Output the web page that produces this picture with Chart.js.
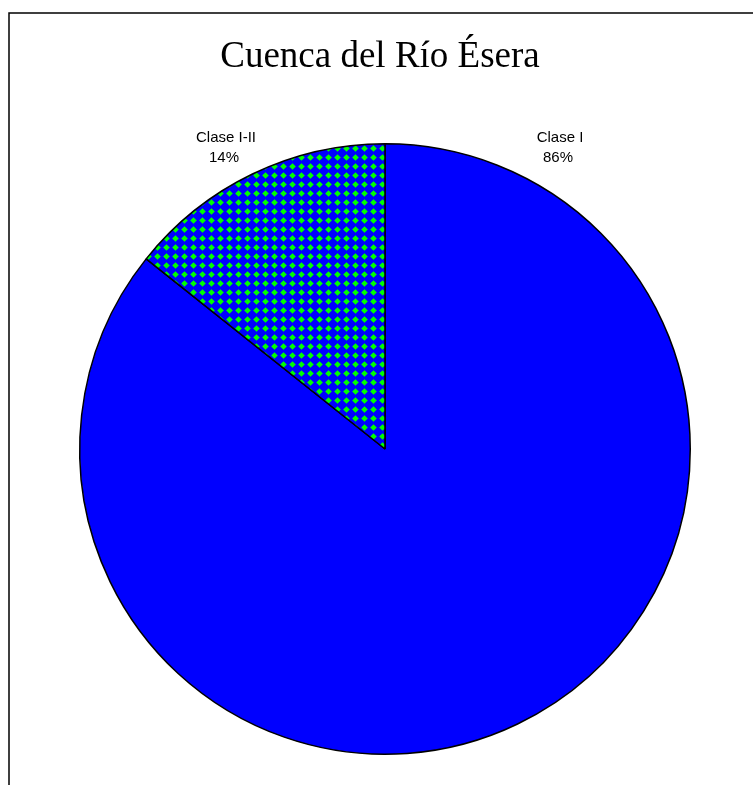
<!DOCTYPE html>
<html>
<head>
<meta charset="utf-8">
<script src="https://cdn.jsdelivr.net/npm/chart.js@4"></script>
<style>
html,body{margin:0;padding:0;background:#fff;}
canvas{display:block;}
</style>
</head>
<body>
<canvas id="c" width="753" height="785"></canvas>
<script>
const chartTitle = "Cuenca del Río Ésera";
const categories = ["Clase I", "Clase I-II"];
const shares = [85.7, 14.3];
const percentLabels = ["86%", "14%"];

function makePattern() {
  const s = 9;
  const inset = 1.2;
  const p = document.createElement('canvas');
  p.width = s; p.height = s;
  const g = p.getContext('2d');
  g.fillStyle = '#0000FF';
  g.fillRect(0, 0, s, s);
  g.fillStyle = '#00FF00';
  g.beginPath();
  g.moveTo(s / 2, inset); g.lineTo(s - inset, s / 2); g.lineTo(s / 2, s - inset); g.lineTo(inset, s / 2);
  g.closePath();
  g.fill();
  return document.getElementById('c').getContext('2d').createPattern(p, 'repeat');
}

const decor = {
  id: 'decor',
  afterDraw(chart) {
    const ctx = chart.ctx;
    ctx.save();
    ctx.strokeStyle = '#000';
    ctx.lineWidth = 1.5;
    ctx.beginPath();
    ctx.moveTo(9, 785);
    ctx.lineTo(9, 13);
    ctx.lineTo(753, 13);
    ctx.stroke();
    ctx.fillStyle = '#000';
    ctx.font = '37px "Liberation Serif", "Times New Roman", serif';
    ctx.textAlign = 'center';
    ctx.textBaseline = 'alphabetic';
    ctx.fillText(chartTitle, 380, 67);
    ctx.font = '15px "Liberation Sans", Arial, sans-serif';
    const pos = [[560, 142], [226, 142]];
    categories.forEach((c, i) => {
      ctx.fillText(c, pos[i][0], pos[i][1]);
      ctx.fillText(percentLabels[i], pos[i][0] - 2, pos[i][1] + 20);
    });
    ctx.restore();
  }
};

new Chart(document.getElementById('c'), {
  type: 'pie',
  data: {
    labels: categories,
    datasets: [{
      data: shares,
      backgroundColor: ['#0000FF', makePattern()],
      borderColor: '#000',
      borderWidth: 1.5,
      borderAlign: 'center'
    }]
  },
  options: {
    responsive: false,
    animation: false,
    layout: { padding: { top: 143, bottom: 30, left: 79, right: 62 } },
    plugins: {
      legend: { display: false },
      title: { display: false },
      tooltip: { enabled: false }
    }
  },
  plugins: [decor]
});
</script>
</body>
</html>
